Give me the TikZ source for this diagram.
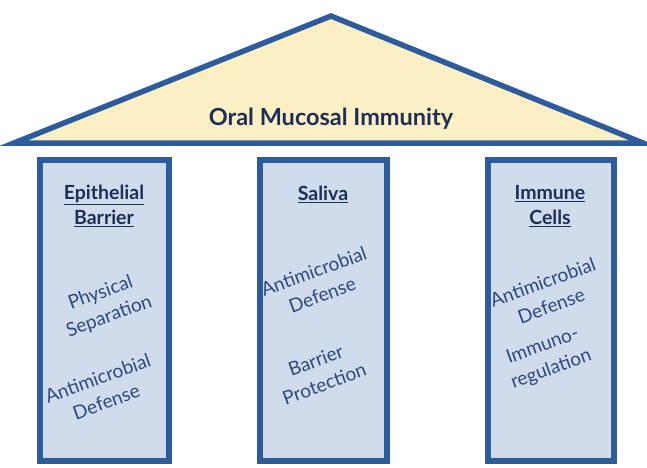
\documentclass[tikz,border=0pt]{standalone}
\usepackage{fontspec}
\setmainfont{Lato}
\usetikzlibrary{positioning}

\definecolor{pillarblue}{HTML}{2E5B9B}
\definecolor{roofyellow}{HTML}{FBEFC4}
\definecolor{pillarfill}{HTML}{D0DCEC}
\definecolor{navytext}{HTML}{1E2F57}
\definecolor{labeltext}{HTML}{2C4A7E}

\begin{document}
\begin{tikzpicture}[
  x=1pt, y=-1pt,
  roof/.style={draw=pillarblue, fill=roofyellow, line width=5.5pt, line join=miter},
  pillar/.style={draw=pillarblue, fill=pillarfill, line width=5.5pt},
  headtext/.style={font=\bfseries\fontsize{23.5}{25}\selectfont, text=navytext, align=center},
  pillartitle/.style={font=\bfseries\fontsize{19.5}{25}\selectfont, text=navytext, align=center},
  role/.style={font=\fontsize{19}{25}\selectfont, text=labeltext, align=center, rotate=20}
]
\useasboundingbox (0,0) rectangle (647,467);

% roof
\draw[roof] (14,143) -- (331,16) -- (643,143) -- cycle;
\node[headtext] (roofname) at (331,119) {Oral Mucosal Immunity};

% the three pillars
\draw[pillar] (40,160) rectangle (169,461);
\draw[pillar] (260,160) rectangle (387,461);
\draw[pillar] (488,160) rectangle (614,461);

% epithelial barrier
\node[pillartitle] (epi) at (104,206) {\underline{Epithelial}\\\underline{Barrier}};
\node[role] (epiphys) at (105,305) {Physical\\Separation};
\node[role] (epiamp) at (102,390) {Antimicrobial\\Defense};

% saliva
\node[pillartitle] (sal) at (323,194) {\underline{Saliva}};
\node[role] (salamp) at (318,283) {Antimicrobial\\Defense};
\node[role] (salbar) at (320,372) {Barrier\\Protection};

% immune cells
\node[pillartitle] (imm) at (550,206) {\underline{Immune}\\\underline{Cells}};
\node[role] (immamp) at (547,294) {Antimicrobial\\Defense};
\node[role] (immreg) at (547,358) {Immuno-\\regulation};
\end{tikzpicture}
\end{document}
